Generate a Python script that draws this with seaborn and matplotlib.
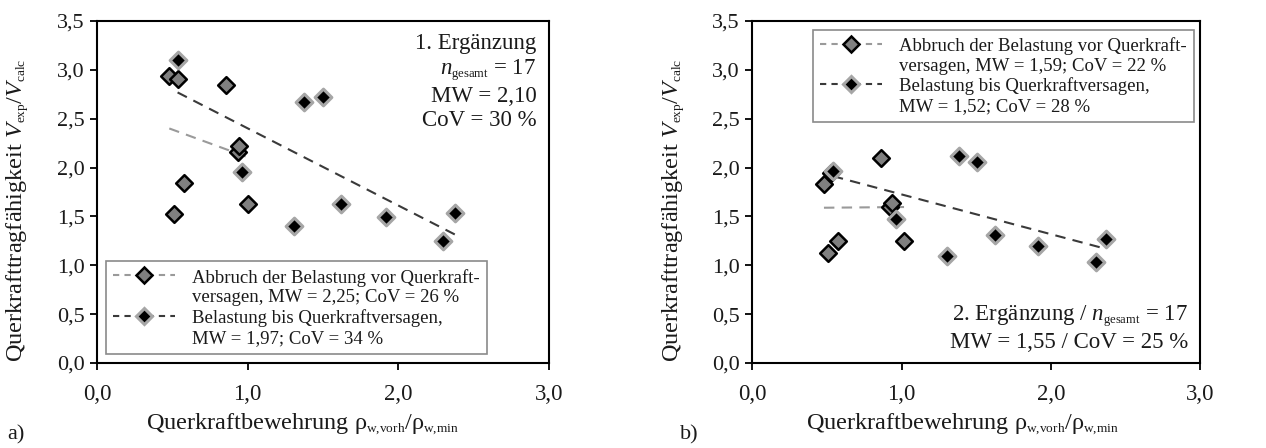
import numpy as np
import pandas as pd
import matplotlib
matplotlib.use('Agg')
import matplotlib.pyplot as plt
import matplotlib._mathtext as _mt
import seaborn as sns
from matplotlib.lines import Line2D
from matplotlib.ticker import FuncFormatter, MultipleLocator

# ---------------- data ----------------
a_abb_x = [0.48, 0.54, 0.855, 0.935, 0.94, 0.58, 0.51, 1.005]
a_abb_y = [2.94, 2.91, 2.85, 2.16, 2.22, 1.84, 1.52, 1.63]
a_bel_x = [0.535, 0.96, 1.376, 1.50, 1.31, 1.62, 1.92, 2.30, 2.375]
a_bel_y = [3.10, 1.95, 2.67, 2.72, 1.40, 1.63, 1.49, 1.25, 1.54]

b_abb_x = [0.48, 0.53, 0.86, 0.92, 0.934, 0.51, 0.576, 1.016]
b_abb_y = [1.83, 1.94, 2.10, 1.60, 1.64, 1.13, 1.25, 1.25]
b_bel_x = [0.54, 0.963, 1.385, 1.503, 1.302, 1.626, 1.916, 2.30, 2.368]
b_bel_y = [1.97, 1.47, 2.12, 2.06, 1.10, 1.31, 1.20, 1.03, 1.27]

lab_a = ["Abbruch der Belastung vor Querkraft-\nversagen, MW = 2,25; CoV = 26 %",
         "Belastung bis Querkraftversagen,\nMW = 1,97; CoV = 34 %"]
lab_b = ["Abbruch der Belastung vor Querkraft-\nversagen, MW = 1,59; CoV = 22 %",
         "Belastung bis Querkraftversagen,\nMW = 1,52; CoV = 28 %"]
note_a = "1. Ergänzung\n$n_{\\mathrm{gesamt}}$ = 17\nMW = 2,10\nCoV = 30 %"
note_b = "2. Ergänzung / $n_{\\mathrm{gesamt}}$ = 17\nMW = 1,55 / CoV = 25 %"
xlabel = "Querkraftbewehrung ρ$_{\\mathrm{w{,}vorh}}$/ρ$_{\\mathrm{w{,}min}}$"
ylabel = "Querkrafttragfähigkeit $V_{\\mathrm{exp}}/V_{\\mathrm{calc}}$"

# ---------------- style ----------------
_mt.SHRINK_FACTOR = 0.55  # small subscripts as in the reference
sns.set_style('white')
plt.rcParams['font.family'] = ['Liberation Serif', 'DejaVu Serif']
plt.rcParams['mathtext.fontset'] = 'custom'
plt.rcParams['mathtext.rm'] = 'Liberation Serif'
plt.rcParams['mathtext.it'] = 'Liberation Serif:italic'
plt.rcParams['mathtext.bf'] = 'Liberation Serif:bold'

TXT = '#1a1a1a'
GREY_FILL = '#808080'
BLACK_EDGE = '#a6a6a6'
LINE_ABB = '#9a9a9a'
LINE_BEL = '#3a3a3a'
MS = 8.5

fig = plt.figure(figsize=(12.66, 4.48), dpi=100)
axA = fig.add_axes([0.0766, 0.1897, 0.357, 0.7634])
axB = fig.add_axes([0.5942, 0.1897, 0.354, 0.7634])

fmt = FuncFormatter(lambda v, p: f"{v:.1f}".replace('.', ','))


def panel(ax, ax_, ay_, bx_, by_, labels, leg_kw, ylx, xlx):
    sns.regplot(x=np.array(ax_), y=np.array(ay_), ax=ax, scatter=False, ci=None,
                line_kws=dict(color=LINE_ABB, lw=1.5, ls=(0, (5, 3.5)), zorder=2))
    sns.regplot(x=np.array(bx_), y=np.array(by_), ax=ax, scatter=False, ci=None,
                line_kws=dict(color=LINE_BEL, lw=1.5, ls=(0, (5, 3.5)), zorder=2))
    sns.scatterplot(x=ax_, y=ay_, ax=ax, marker='D', s=MS ** 2, color=GREY_FILL,
                    edgecolor='black', linewidth=1.8, zorder=3, legend=False)
    sns.scatterplot(x=bx_, y=by_, ax=ax, marker='D', s=MS ** 2, color='black',
                    edgecolor=BLACK_EDGE, linewidth=2.2, zorder=4, legend=False)
    ax.set_xlim(0, 3.0)
    ax.set_ylim(0, 3.5)
    ax.xaxis.set_major_locator(MultipleLocator(1.0))
    ax.yaxis.set_major_locator(MultipleLocator(0.5))
    ax.xaxis.set_major_formatter(fmt)
    ax.yaxis.set_major_formatter(fmt)
    ax.tick_params(axis='both', direction='out', length=5, width=1.3, colors='black',
                   labelsize=16, labelcolor=TXT, bottom=True, left=True, pad=4)
    ax.tick_params(axis='x', pad=10, labelsize=16.5)
    for s in ax.spines.values():
        s.set_color('black')
        s.set_linewidth(1.5)
        s.set_visible(True)
    ax.set_xlabel(xlabel, fontsize=17.5, color=TXT)
    ax.set_ylabel(ylabel, fontsize=17.5, color=TXT)
    ax.xaxis.set_label_coords(xlx, -0.14)
    ax.yaxis.set_label_coords(ylx, 0.447)
    h1 = Line2D([], [], color=LINE_ABB, lw=1.5, ls=(0, (3, 2.5)), marker='D', ms=MS,
                markerfacecolor=GREY_FILL, markeredgecolor='black', markeredgewidth=1.8)
    h2 = Line2D([], [], color=LINE_BEL, lw=1.5, ls=(0, (3, 2.5)), marker='D', ms=MS,
                markerfacecolor='black', markeredgecolor=BLACK_EDGE, markeredgewidth=2.2)
    leg = ax.legend([h1, h2], labels, fontsize=13.5, frameon=True, fancybox=False,
                    edgecolor='#8a8a8a', framealpha=1, handlelength=3.3,
                    handletextpad=0.9, labelspacing=0.15, borderpad=0.4,
                    borderaxespad=0, numpoints=1, **leg_kw)
    leg.get_frame().set_linewidth(1.2)
    for t in leg.get_texts():
        t.set_color(TXT)
        t.set_linespacing(1.2)
    # put each handle level with the first line of its two-line label
    try:
        for col in leg._legend_handle_box.get_children():
            for item in col.get_children():
                item.align = 'top'
    except Exception:
        pass


panel(axA, a_abb_x, a_abb_y, a_bel_x, a_bel_y, lab_a,
      dict(loc='lower left', bbox_to_anchor=(0.019, 0.026)), -0.146, 0.455)
panel(axB, b_abb_x, b_abb_y, b_bel_x, b_bel_y, lab_b,
      dict(loc='upper right', bbox_to_anchor=(0.986, 0.975)), -0.145, 0.468)

axA.text(0.972, 0.965, note_a, transform=axA.transAxes, ha='right', va='top',
         fontsize=16.5, color=TXT, linespacing=1.2)
axB.text(0.973, 0.03, note_b, transform=axB.transAxes, ha='right', va='bottom',
         fontsize=16.5, color=TXT, linespacing=1.2)

fig.text(0.006, 0.008, 'a)', fontsize=16, color=TXT, ha='left', va='bottom')
fig.text(0.537, 0.008, 'b)', fontsize=16, color=TXT, ha='left', va='bottom')

fig.savefig('out.png', dpi=100)
